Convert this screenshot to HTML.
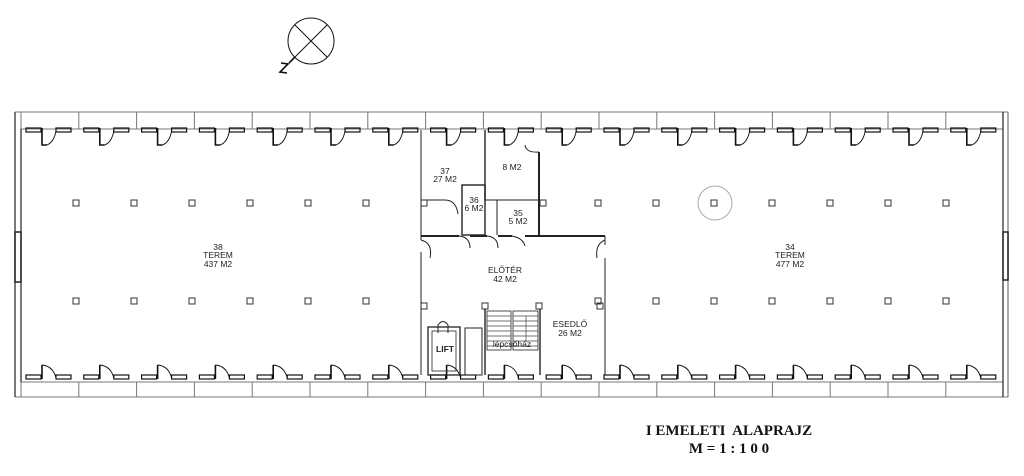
<!DOCTYPE html>
<html><head><meta charset="utf-8"><style>
html,body{margin:0;padding:0;background:#fff;}
svg{display:block}
.t{font-family:"Liberation Sans",sans-serif;font-size:8.5px;fill:#222;text-anchor:middle}
.ti{font-family:"Liberation Serif",serif;font-size:15px;font-weight:bold;fill:#111;text-anchor:middle}
</style></head><body>
<svg width="1024" height="476" viewBox="0 0 1024 476" xmlns="http://www.w3.org/2000/svg">
<defs>
<g id="tb" fill="none" stroke="#111">
 <line x1="0" y1="112" x2="0" y2="129" stroke="#777" stroke-width="1"/>
 <rect x="5" y="128" width="15" height="4" stroke-width="1.2"/>
 <rect x="35" y="128" width="15" height="4" stroke-width="1.2"/>
 <polyline points="21,128 21,145 26,145" stroke-width="1.6"/>
 <path d="M26,145 Q33,142 35,131" stroke-width="0.9"/>
</g>
<g id="bb" fill="none" stroke="#111">
 <line x1="0" y1="382" x2="0" y2="397" stroke="#777" stroke-width="1"/>
 <rect x="5" y="375" width="15" height="4" stroke-width="1.2"/>
 <rect x="35" y="375" width="15" height="4" stroke-width="1.2"/>
 <line x1="21" y1="379" x2="21" y2="365" stroke-width="1.6"/>
 <path d="M21,365 Q32,366 35,378" stroke-width="0.9"/>
</g>
<rect id="c" width="6" height="6" fill="none" stroke="#333" stroke-width="1"/>
</defs>
<g fill="none" stroke="#777" stroke-width="1">
 <line x1="15" y1="112" x2="1008" y2="112"/>
 <line x1="15" y1="397" x2="1008" y2="397"/>
 <line x1="21" y1="129" x2="1003" y2="129"/>
 <line x1="21" y1="382" x2="1003" y2="382"/>
</g>
<g fill="none" stroke="#222" stroke-width="1.2">
 <line x1="15" y1="112" x2="15" y2="397"/>
 <line x1="21" y1="129" x2="21" y2="382"/>
 <line x1="1003" y1="112" x2="1003" y2="397"/>
 <line x1="1008" y1="112" x2="1008" y2="397" stroke="#777"/>
 <rect x="15" y="232" width="6" height="50" stroke-width="1.5"/>
 <rect x="1003" y="232" width="5" height="48" stroke-width="1.5"/>
</g>
<g>
<use href="#tb" x="21"/><use href="#tb" x="78.8"/><use href="#tb" x="136.6"/><use href="#tb" x="194.4"/><use href="#tb" x="252.2"/><use href="#tb" x="310"/><use href="#tb" x="367.8"/><use href="#tb" x="425.6"/><use href="#tb" x="483.4"/><use href="#tb" x="541.2"/><use href="#tb" x="599"/><use href="#tb" x="656.8"/><use href="#tb" x="714.6"/><use href="#tb" x="772.4"/><use href="#tb" x="830.2"/><use href="#tb" x="888"/><use href="#tb" x="945.8"/>
<use href="#bb" x="21"/><use href="#bb" x="78.8"/><use href="#bb" x="136.6"/><use href="#bb" x="194.4"/><use href="#bb" x="252.2"/><use href="#bb" x="310"/><use href="#bb" x="367.8"/><use href="#bb" x="425.6"/><use href="#bb" x="483.4"/><use href="#bb" x="541.2"/><use href="#bb" x="599"/><use href="#bb" x="656.8"/><use href="#bb" x="714.6"/><use href="#bb" x="772.4"/><use href="#bb" x="830.2"/><use href="#bb" x="888"/><use href="#bb" x="945.8"/>
</g>
<g>
<use href="#c" x="73" y="200"/><use href="#c" x="131" y="200"/><use href="#c" x="189" y="200"/><use href="#c" x="247" y="200"/><use href="#c" x="305" y="200"/><use href="#c" x="363" y="200"/>
<use href="#c" x="595" y="200"/><use href="#c" x="653" y="200"/><use href="#c" x="711" y="200"/><use href="#c" x="769" y="200"/><use href="#c" x="827" y="200"/><use href="#c" x="885" y="200"/><use href="#c" x="943" y="200"/>
<use href="#c" x="73" y="298"/><use href="#c" x="131" y="298"/><use href="#c" x="189" y="298"/><use href="#c" x="247" y="298"/><use href="#c" x="305" y="298"/><use href="#c" x="363" y="298"/>
<use href="#c" x="595" y="298"/><use href="#c" x="653" y="298"/><use href="#c" x="711" y="298"/><use href="#c" x="769" y="298"/><use href="#c" x="827" y="298"/><use href="#c" x="885" y="298"/><use href="#c" x="943" y="298"/>
<use href="#c" x="421" y="200"/><use href="#c" x="540" y="200"/><use href="#c" x="421" y="303"/><use href="#c" x="482" y="303"/><use href="#c" x="536" y="303"/><use href="#c" x="597" y="303"/>
</g>
<circle cx="715" cy="203" r="17" fill="none" stroke="#aaa" stroke-width="1"/>
<g fill="none" stroke="#222" stroke-width="1">
 <line x1="421" y1="130" x2="421" y2="240"/>
 <line x1="421" y1="252" x2="421" y2="375"/>
 <line x1="485" y1="130" x2="485" y2="200" stroke-width="1.4"/>
 <line x1="421" y1="200" x2="445" y2="200"/>
 <path d="M445,200 Q456,200 458,214"/>
 <rect x="462" y="185" width="23" height="50" stroke-width="1.4"/>
 <line x1="485" y1="200" x2="540" y2="200"/>
 <line x1="497" y1="200" x2="497" y2="235"/>
 <line x1="539" y1="152" x2="539" y2="235" stroke-width="2"/>
 <path d="M539,152 Q526,153 525,145"/>
 <line x1="421" y1="236" x2="459" y2="236" stroke-width="2"/>
 <line x1="470" y1="236" x2="487" y2="236" stroke-width="2"/>
 <line x1="498" y1="236" x2="512" y2="236" stroke-width="2"/>
 <line x1="525" y1="236" x2="605" y2="236" stroke-width="2"/>
 <path d="M459,236 Q470,237 470,248"/><path d="M487,236 Q498,237 498,248"/><path d="M512,236 Q523,238 525,246"/>
 <path d="M421,240 Q433,243 430,258"/><path d="M605,240 Q595,244 597,258"/>
 <line x1="605" y1="236" x2="605" y2="245"/>
 <line x1="605" y1="258" x2="605" y2="375"/>
 <rect x="428" y="327" width="32" height="48" stroke-width="1.3"/>
 <rect x="432" y="331" width="24" height="40" stroke-width="0.8"/>
 <rect x="465" y="328" width="17" height="47"/>
 <path d="M438,333 L438,325 Q443,318 448,325 L448,333"/>
 <line x1="485" y1="309" x2="485" y2="375" stroke-width="1.4"/>
 <line x1="540" y1="309" x2="540" y2="375" stroke-width="1.4"/>
 <rect x="487" y="311" width="24" height="39" stroke-width="0.8"/>
 <rect x="513" y="311" width="25" height="39" stroke-width="0.8"/>
</g>
<g stroke="#444" stroke-width="0.7">
 <line x1="487" y1="316" x2="511" y2="316"/><line x1="487" y1="321" x2="511" y2="321"/><line x1="487" y1="326" x2="511" y2="326"/><line x1="487" y1="331" x2="511" y2="331"/><line x1="487" y1="336" x2="511" y2="336"/><line x1="487" y1="341" x2="511" y2="341"/><line x1="487" y1="346" x2="511" y2="346"/>
 <line x1="513" y1="316" x2="538" y2="316"/><line x1="513" y1="321" x2="538" y2="321"/><line x1="513" y1="326" x2="538" y2="326"/><line x1="513" y1="331" x2="538" y2="331"/><line x1="513" y1="336" x2="538" y2="336"/><line x1="513" y1="341" x2="538" y2="341"/><line x1="513" y1="346" x2="538" y2="346"/>
 <line x1="526" y1="316" x2="526" y2="342"/>
</g>
<text class="t" x="218" y="250">38</text><text class="t" x="218" y="258">TEREM</text><text class="t" x="218" y="267">437 M2</text>
<text class="t" x="790" y="250">34</text><text class="t" x="790" y="258">TEREM</text><text class="t" x="790" y="267">477 M2</text>
<text class="t" x="445" y="174">37</text><text class="t" x="445" y="182">27 M2</text>
<text class="t" x="512" y="170">8 M2</text>
<text class="t" x="474" y="203">36</text><text class="t" x="474" y="211">6 M2</text>
<text class="t" x="518" y="216">35</text><text class="t" x="518" y="224">5 M2</text>
<text class="t" x="505" y="273">ELŐTÉR</text><text class="t" x="505" y="282">42 M2</text>
<text class="t" x="570" y="327">ESEDLŐ</text><text class="t" x="570" y="336">26 M2</text>
<text class="t" x="512" y="347">lépcsőház</text>
<text class="t" x="445" y="352" style="font-weight:bold">LIFT</text>
<g fill="none" stroke="#111" stroke-width="1">
 <circle cx="311" cy="41" r="23"/>
 <line x1="295" y1="25" x2="327" y2="57"/>
 <line x1="327" y1="25" x2="295" y2="57"/>
 <line x1="295" y1="57" x2="289" y2="63" stroke-width="1.6"/>
 <path d="M281,63 L288,64 L280,72 L287,73" stroke-width="1.6"/>
</g>
<text class="ti" x="729" y="435">I EMELETI&#160; ALAPRAJZ</text>
<text class="ti" x="729" y="453">M = 1 : 1 0 0</text>
</svg>
</body></html>
